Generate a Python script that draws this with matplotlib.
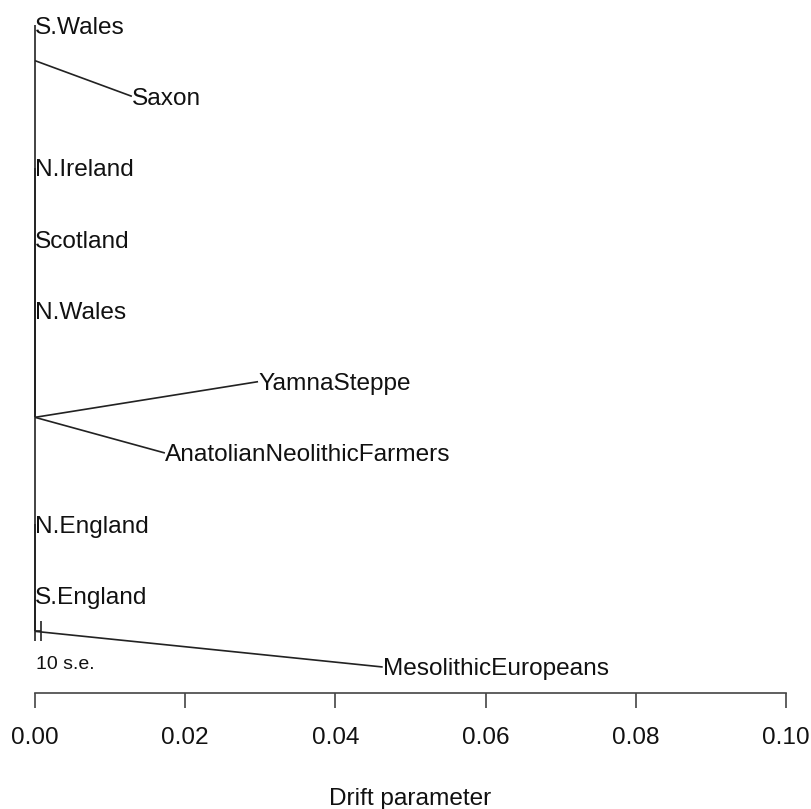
import matplotlib
matplotlib.use('Agg')
import matplotlib.pyplot as plt

plt.rcParams['font.family'] = ['Liberation Sans', 'DejaVu Sans']

# tips: name, drift (x), vertical order (1 = bottom)
tips = ['MesolithicEuropeans', 'S.England', 'N.England', 'AnatolianNeolithicFarmers',
        'YamnaSteppe', 'N.Wales', 'Scotland', 'N.Ireland', 'Saxon', 'S.Wales']
tip_drift = [0.0463, 0.0, 0.0, 0.0173, 0.0297, 0.0, 0.0, 0.0, 0.0129, 0.0]
tip_order = [1, 2, 3, 4, 5, 6, 7, 8, 9, 10]

# internal nodes
nodes = ['root', 'n_steppe', 'n_saxon']
node_drift = [0.0, 0.0, 0.0]
node_order = [1.5, 4.5, 9.5]

# edges parent -> child
edges = [('root', 'MesolithicEuropeans'), ('root', 'S.England'), ('root', 'N.England'),
         ('root', 'n_steppe'), ('n_steppe', 'AnatolianNeolithicFarmers'),
         ('n_steppe', 'YamnaSteppe'), ('n_steppe', 'N.Wales'), ('n_steppe', 'Scotland'),
         ('n_steppe', 'N.Ireland'), ('n_steppe', 'n_saxon'), ('n_saxon', 'Saxon'),
         ('n_saxon', 'S.Wales')]

# scale bar: 10 standard errors
se10 = 0.0008
se_order = 1.5

pos = {}
for n, x, y in zip(tips, tip_drift, tip_order):
    pos[n] = (x, y)
for n, x, y in zip(nodes, node_drift, node_order):
    pos[n] = (x, y)

fig = plt.figure(figsize=(8.12, 8.09), dpi=100)
ax = fig.add_axes([35 / 812, 1 - 693 / 809, 751 / 812, 683 / 809])

for p, c in edges:
    x0, y0 = pos[p]
    x1, y1 = pos[c]
    ax.plot([x0, x1], [y0, y1], color='#222222', lw=1.2, clip_on=False,
            solid_capstyle='butt')

for n, x, y in zip(tips, tip_drift, tip_order):
    ax.text(x, y, n, ha='left', va='center_baseline', fontsize=17.6, color='#111111')

# scale bar
ax.errorbar([se10 / 2], [se_order], xerr=[se10 / 2], color='#222222', lw=1.2,
            capsize=7, capthick=1.2, clip_on=False)
ax.text(0.0001, se_order - 0.43, '10 s.e.', ha='left', va='center_baseline',
        fontsize=14, color='#111111')

ax.set_xlim(0, 0.1)
ax.set_ylim(1 - 26 / 71.33, 10 + 15 / 71.33)
ax.set_xticks([0.0, 0.02, 0.04, 0.06, 0.08, 0.10])
ax.set_xticklabels(['0.00', '0.02', '0.04', '0.06', '0.08', '0.10'])
ax.set_yticks([])
for s in ['top', 'left', 'right']:
    ax.spines[s].set_visible(False)
ax.spines['bottom'].set_color('#444444')
ax.spines['bottom'].set_linewidth(1.2)
ax.tick_params(axis='x', length=10.5, width=1.2, color='#444444', pad=14,
               labelsize=17.6, labelcolor='#111111')
ax.set_xlabel('Drift parameter', fontsize=17.6, labelpad=28, color='#111111')

plt.savefig('out.png', dpi=100)
plt.close()
